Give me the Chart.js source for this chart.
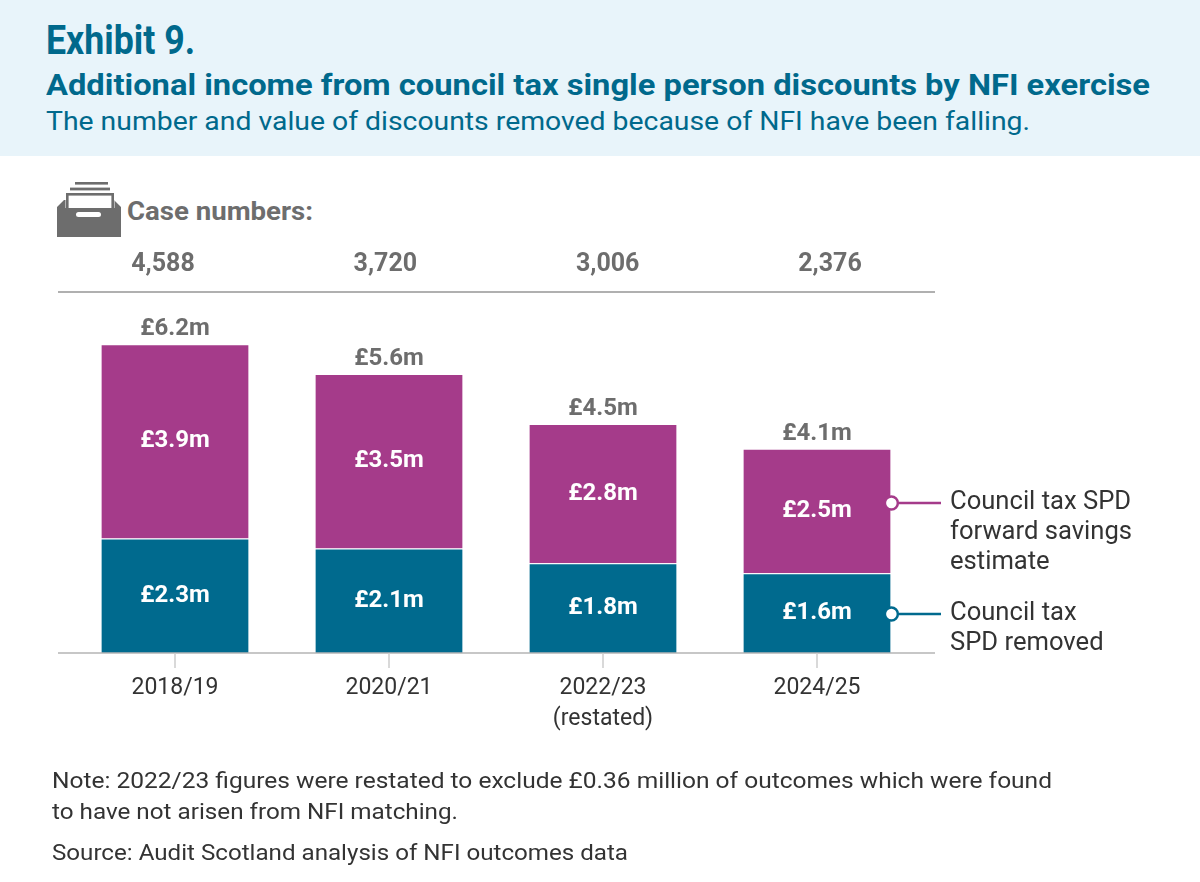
<!DOCTYPE html>
<html><head><meta charset="utf-8">
<script src="https://cdn.jsdelivr.net/npm/chart.js@4/dist/chart.umd.min.js"></script>
<style>
html,body{margin:0;padding:0;width:1200px;height:882px;overflow:hidden;background:#fff;font-family:Roboto,"Liberation Sans",sans-serif;}
#header{position:absolute;left:0;top:0;width:1200px;height:156px;background:#e8f4fa;}
.txt{position:absolute;white-space:nowrap;line-height:1;transform-origin:0 0;}
.t1{left:46px;font-size:40px;font-weight:700;color:#00698c;}
.t2{left:46px;font-size:30px;font-weight:700;color:#00698c;}
.t3{left:46px;font-size:25.5px;font-weight:400;color:#00698c;}
.case{left:127px;font-size:25px;font-weight:700;color:#6d6d6d;}
.note{left:52px;font-size:22.5px;font-weight:400;color:#333;}
#wrap{position:absolute;left:0;top:0;width:1200px;height:882px;}
#icon{position:absolute;left:0;top:0;}
</style></head>
<body>
<div id="header"></div>
<div class="txt t1" data-base="55" data-w="149">Exhibit 9.</div>
<div class="txt t2" data-base="95" data-w="1104">Additional income from council tax single person discounts by NFI exercise</div>
<div class="txt t3" data-base="130" data-w="984">The number and value of discounts removed because of NFI have been falling.</div>
<svg id="icon" width="130" height="245" viewBox="0 0 130 245">
  <rect x="75" y="182" width="33" height="2.6" fill="#6d6d6d"/>
  <rect x="70" y="187.6" width="40" height="2.8" fill="#6d6d6d"/>
  <rect x="67.3" y="194.3" width="45.4" height="22" fill="none" stroke="#6d6d6d" stroke-width="2.6"/>
  <path d="M57,237 L57,207 L64,200 L65.5,200 L65.5,208 L114.5,208 L114.5,200 L113,200 L114,200 L121,207 L121,237 Z" fill="#6d6d6d"/>
  <rect x="76" y="212" width="25" height="5" rx="2.5" fill="#fff"/>
</svg>
<div class="txt case" data-base="220" data-w="186">Case numbers:</div>
<div id="wrap"><canvas id="c"></canvas></div>
<div class="txt note" data-base="788" data-w="1000">Note: 2022/23 figures were restated to exclude £0.36 million of outcomes which were found</div>
<div class="txt note" data-base="819" data-w="406">to have not arisen from NFI matching.</div>
<div class="txt note" data-base="860" data-w="576">Source: Audit Scotland analysis of NFI outcomes data</div>
<script>
// ---- data ----
const categories = ["2018/19", "2020/21", "2022/23", "2024/25"];
const categorySubLabels = ["", "", "(restated)", ""];
const caseNumbers = ["4,588", "3,720", "3,006", "2,376"];
const spdRemoved = [2.3, 2.1, 1.8, 1.6];
const forwardSavings = [3.9, 3.5, 2.8, 2.5];
const totalLabels = ["£6.2m", "£5.6m", "£4.5m", "£4.1m"];
const seriesNames = [["Council tax", "SPD removed"], ["Council tax SPD", "forward savings", "estimate"]];

const TEAL = "#006a8e";
const PURPLE = "#a53b8a";
const FONT = 'Roboto, "Liberation Sans", sans-serif';

// fit html text
document.querySelectorAll('.txt').forEach(el => {
  const s = parseFloat(getComputedStyle(el).fontSize);
  el.style.top = (parseFloat(el.dataset.base) - 0.842 * s) + 'px';
  const w = el.getBoundingClientRect().width;
  const tw = parseFloat(el.dataset.w);
  if (w > 0 && tw) el.style.transform = 'scaleX(' + (tw / w) + ')';
});

function fmt(v) { return '£' + v.toFixed(1) + 'm'; }

const overlay = {
  id: 'overlay',
  afterDatasetsDraw(chart) {
    const ctx = chart.ctx;
    const xs = chart.scales.x, ys = chart.scales.y;
    const y0 = ys.getPixelForValue(0);
    const m0 = chart.getDatasetMeta(0), m1 = chart.getDatasetMeta(1);
    const ruleL = 58, ruleR = 935;
    ctx.save();
    // baseline
    ctx.strokeStyle = '#b5b5b5'; ctx.lineWidth = 1.5;
    ctx.beginPath(); ctx.moveTo(ruleL, y0); ctx.lineTo(ruleR, y0); ctx.stroke();
    // case numbers rule
    ctx.strokeStyle = '#b0b0b0'; ctx.lineWidth = 2;
    ctx.beginPath(); ctx.moveTo(ruleL, 292); ctx.lineTo(ruleR, 292); ctx.stroke();
    const caseInset = 105;
    const caseStep = (ruleR - ruleL - 2 * caseInset) / (caseNumbers.length - 1);
    categories.forEach((c, i) => {
      const cx = xs.getPixelForValue(i);
      // tick
      ctx.strokeStyle = '#cccccc'; ctx.lineWidth = 1.5;
      ctx.beginPath(); ctx.moveTo(cx, y0); ctx.lineTo(cx, y0 + 15); ctx.stroke();
      ctx.textAlign = 'center'; ctx.textBaseline = 'middle';
      ctx.fillStyle = '#333';
      ctx.font = '400 23px ' + FONT;
      ctx.fillText(c, cx, 688);
      if (categorySubLabels[i]) ctx.fillText(categorySubLabels[i], cx, 719);
      // case numbers
      ctx.fillStyle = '#6d6d6d';
      ctx.font = '700 25px ' + FONT;
      ctx.fillText(caseNumbers[i], ruleL + caseInset + i * caseStep, 265);
      // in-bar labels
      ctx.fillStyle = '#fff';
      ctx.font = '700 24px ' + FONT;
      const b0 = m0.data[i], b1 = m1.data[i];
      ctx.fillText(fmt(spdRemoved[i]), cx, (b0.y + b0.base) / 2);
      ctx.fillText(fmt(forwardSavings[i]), cx, (b1.y + b1.base) / 2);
      // totals
      ctx.fillStyle = '#6d6d6d';
      ctx.textBaseline = 'alphabetic';
      ctx.fillText(totalLabels[i], cx, b1.y - 9);
    });
    // legend markers
    const last = categories.length - 1;
    const bl0 = m0.data[last];
    const rx = bl0.x + bl0.width / 2;
    const markers = [
      {y: ys.getPixelForValue(spdRemoved[last] * 0.49), color: TEAL, lines: seriesNames[0]},
      {y: ys.getPixelForValue(spdRemoved[last] + forwardSavings[last] * 0.565), color: PURPLE, lines: seriesNames[1]}
    ];
    markers.forEach(mk => {
      ctx.strokeStyle = mk.color; ctx.lineWidth = 2.5;
      ctx.beginPath(); ctx.moveTo(rx + 7, mk.y); ctx.lineTo(941, mk.y); ctx.stroke();
      ctx.beginPath(); ctx.arc(rx, mk.y, 6.5, 0, Math.PI * 2);
      ctx.fillStyle = '#fff'; ctx.fill(); ctx.stroke();
      ctx.fillStyle = '#333'; ctx.font = '400 25.6px ' + FONT;
      ctx.textAlign = 'left'; ctx.textBaseline = 'middle';
      mk.lines.forEach((t, k) => ctx.fillText(t, 950, mk.y + k * 30));
    });
    ctx.restore();
  }
};

new Chart(document.getElementById('c'), {
  type: 'bar',
  data: {
    labels: categories,
    datasets: [
      {label: 'Council tax SPD removed', data: spdRemoved, backgroundColor: TEAL, borderColor: 'rgba(255,255,255,0.75)', borderWidth: 1},
      {label: 'Council tax SPD forward savings estimate', data: forwardSavings, backgroundColor: PURPLE, borderColor: 'rgba(255,255,255,0.75)', borderWidth: 1}
    ]
  },
  options: {
    responsive: true, maintainAspectRatio: false, animation: false,
    layout: {padding: {left: 68, right: 276, top: 304.4, bottom: 229}},
    datasets: {bar: {barPercentage: 0.695, categoryPercentage: 1}},
    plugins: {legend: {display: false}, tooltip: {enabled: false}},
    scales: {
      x: {stacked: true, display: false},
      y: {stacked: true, display: false, min: 0, max: 7}
    }
  },
  plugins: [overlay]
});
</script>
</body></html>
